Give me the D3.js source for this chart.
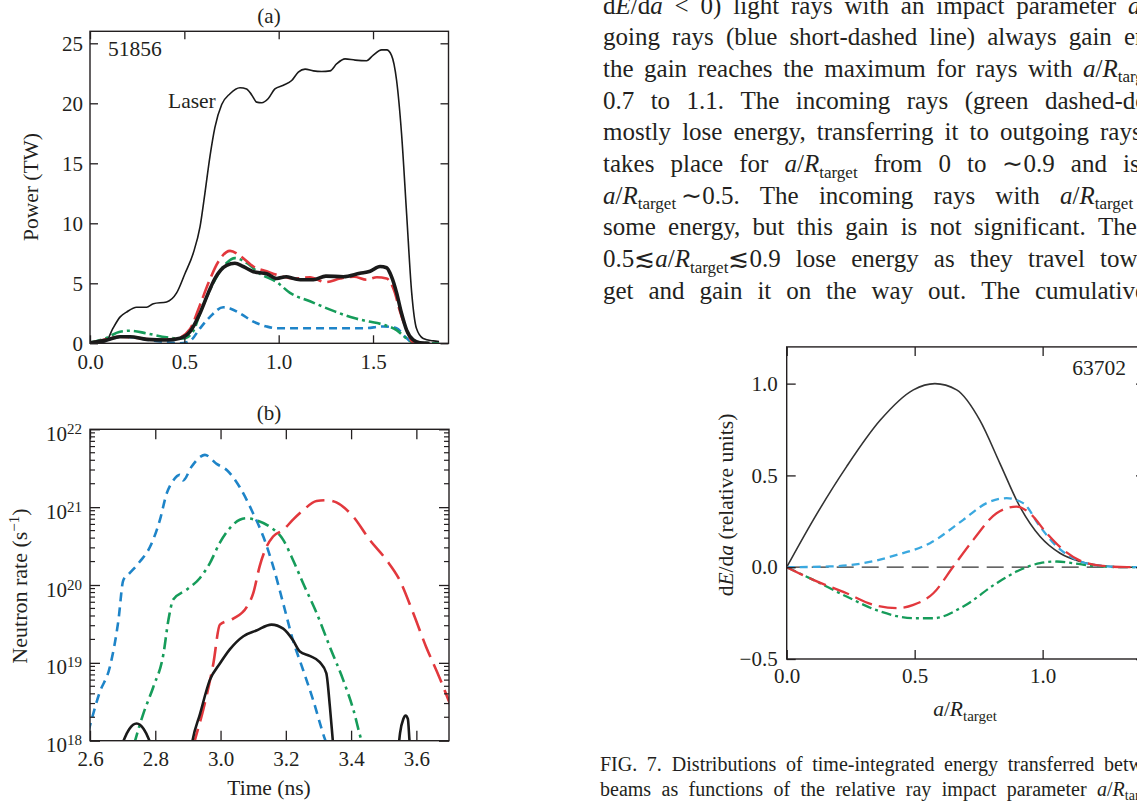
<!DOCTYPE html>
<html>
<head>
<meta charset="utf-8">
<script src="https://cdn.jsdelivr.net/npm/d3@7"></script>
<style>
  html, body { margin: 0; padding: 0; background: #fff; }
  svg { display: block; }
  text { font-family: "Liberation Serif", "Times New Roman", serif; fill: #231f20; }
</style>
</head>
<body>
<svg id="page" width="1137" height="801"></svg>
<script>
// ---------- Panel (a): power history, shot 51856 ----------
const powerTicksX = [0, 0.5, 1.0, 1.5];
const powerTicksY = [0, 5, 10, 15, 20, 25];
const laserPower = [[0,0.05],[0.05,0.05],[0.085,0.15],[0.12,1.2],[0.16,2.2],[0.194,2.6],[0.247,3.0],[0.3,3.0],[0.336,3.3],[0.406,3.45],[0.459,4.2],[0.503,5.8],[0.547,7.5],[0.583,9.7],[0.609,12.5],[0.636,15.6],[0.662,18.0],[0.698,19.9],[0.742,20.8],[0.795,21.3],[0.83,21.2],[0.857,20.7],[0.883,20.1],[0.91,20.05],[0.945,20.4],[0.98,21.2],[1.025,21.5],[1.069,21.9],[1.104,22.6],[1.14,22.85],[1.184,22.7],[1.228,22.65],[1.272,22.7],[1.308,23.3],[1.352,23.7],[1.405,23.6],[1.466,23.55],[1.5,24.0],[1.546,24.45],[1.572,24.45],[1.598,24.0],[1.625,21.9],[1.651,17.5],[1.678,10.8],[1.705,4.2],[1.73,1.25],[1.766,0.4],[1.819,0.2],[1.85,0.15]];
const absorbedPower = [[0,0.05],[0.088,0.27],[0.159,0.55],[0.212,0.55],[0.3,0.33],[0.406,0.27],[0.477,0.42],[0.53,0.97],[0.583,2.5],[0.627,4.2],[0.662,5.4],[0.724,6.5],[0.768,6.67],[0.812,6.4],[0.866,5.97],[0.936,5.8],[0.99,5.4],[1.04,5.55],[1.08,5.4],[1.115,5.3],[1.184,5.3],[1.25,5.6],[1.343,5.55],[1.43,5.83],[1.485,6.0],[1.537,6.4],[1.572,6.3],[1.598,5.55],[1.625,4.2],[1.651,2.5],[1.678,1.1],[1.713,0.28],[1.748,0.05],[1.8,0]];
const redPower = [[0,0.05],[0.05,0.2],[0.1,0.4],[0.159,0.55],[0.25,0.45],[0.35,0.3],[0.45,0.35],[0.53,1.2],[0.583,3.2],[0.627,5.0],[0.68,6.8],[0.742,7.7],[0.795,7.3],[0.866,6.4],[0.936,6.0],[0.99,5.7],[1.08,5.4],[1.166,5.5],[1.25,5.1],[1.326,5.4],[1.4,5.55],[1.466,5.3],[1.52,5.5],[1.572,5.4],[1.616,4.2],[1.64,2.8],[1.678,1.1],[1.71,0.1],[1.75,0]];
const greenPower = [[0,0.05],[0.08,0.4],[0.159,0.97],[0.212,1.05],[0.3,0.83],[0.406,0.5],[0.495,0.4],[0.547,1.0],[0.583,2.5],[0.653,5.0],[0.724,6.7],[0.768,7.1],[0.83,6.7],[0.9,5.8],[0.99,5.1],[1.06,4.2],[1.166,3.5],[1.29,2.7],[1.4,2.1],[1.466,1.85],[1.555,1.55],[1.625,1.1],[1.678,0.4],[1.713,0.05],[1.85,0]];
const bluePower = [[0,0],[0.088,0.27],[0.159,0.55],[0.23,0.5],[0.318,0.27],[0.406,0.1],[0.477,0.0],[0.53,0.2],[0.583,1.25],[0.636,2.2],[0.706,3.0],[0.742,2.9],[0.795,2.5],[0.866,1.8],[0.936,1.4],[0.99,1.25],[1.2,1.25],[1.45,1.25],[1.555,1.4],[1.625,1.25],[1.67,0.55],[1.713,0.05],[1.76,0]];

// ---------- Panel (b): neutron rate ----------
const timeTicks = [2.6, 2.8, 3.0, 3.2, 3.4, 3.6];
const rateDecades = [1e18, 1e19, 1e20, 1e21, 1e22];
const blueRate = [[2.595,1.3e18],[2.629,4.1e18],[2.661,8.9e18],[2.687,3.5e19],[2.702,1.15e20],[2.72,1.4e20],[2.753,2.0e20],[2.784,3.1e20],[2.814,6.8e20],[2.835,1.5e21],[2.855,2.2e21],[2.875,2.6e21],[2.885,2.2e21],[2.911,3.3e21],[2.937,4.4e21],[2.952,4.7e21],[2.988,3.6e21],[3.019,3.0e21],[3.059,1.8e21],[3.1,8.3e20],[3.131,4.2e20],[3.161,1.75e20],[3.192,5.8e19],[3.222,1.95e19],[3.253,8.1e18],[3.284,3.3e18],[3.319,1.07e18],[3.33,8e17]];
const greenRate = [[2.735,9e17],[2.763,2.2e18],[2.794,4.9e18],[2.825,1.3e19],[2.84,3.5e19],[2.855,6.5e19],[2.896,8.7e19],[2.937,1.23e20],[2.967,1.9e20],[2.998,3.5e20],[3.029,5.4e20],[3.059,6.9e20],[3.08,7.2e20],[3.11,6.8e20],[3.151,5.6e20],[3.192,3.8e20],[3.222,2.1e20],[3.253,1.05e20],[3.294,4.4e19],[3.335,1.6e19],[3.376,6.0e18],[3.407,2.5e18],[3.432,1.0e18],[3.44,8e17]];
const redRate = [[2.915,8e17],[2.921,1.0e18],[2.947,2.5e18],[2.978,9.8e18],[2.998,3.1e19],[3.039,3.7e19],[3.08,5.2e19],[3.1,7.8e19],[3.12,1.75e20],[3.141,3.1e20],[3.161,4.2e20],[3.192,5.1e20],[3.222,6.9e20],[3.253,9.1e20],[3.294,1.2e21],[3.325,1.23e21],[3.355,1.15e21],[3.406,7.6e20],[3.457,3.8e20],[3.508,2.1e20],[3.549,1.15e20],[3.59,4.4e19],[3.63,1.6e19],[3.67,6.6e18],[3.7,3.2e18],[3.71,2.5e18]];
const blackRate = [[2.695,8e17],[2.705,1.05e18],[2.72,1.4e18],[2.743,1.66e18],[2.765,1.4e18],[2.78,1.05e18],[2.79,8e17],null,
  [2.91,8e17],[2.914,1.0e18],[2.937,2.2e18],[2.967,6.0e18],[2.998,9.8e18],[3.029,1.5e19],[3.07,2.2e19],[3.11,2.6e19],[3.156,3.1e19],[3.192,2.75e19],[3.222,1.95e19],[3.243,1.4e19],[3.273,1.23e19],[3.304,1.02e19],[3.324,7.4e18],[3.335,2.75e18],[3.344,1.0e18],[3.346,8e17],null,
  [3.545,8e17],[3.55,1.25e18],[3.56,1.9e18],[3.567,2.1e18],[3.574,1.9e18],[3.579,1.0e18],[3.581,8e17]];

// ---------- Fig. 7: dE/da versus a/R_target, shot 63702 ----------
const impactTicks = [0, 0.5, 1.0];
const transferTicks = [-0.5, 0, 0.5, 1.0];
const totalTransfer = [[0,0],[0.104,0.258],[0.234,0.548],[0.365,0.80],[0.495,0.966],[0.579,1.0],[0.664,0.966],[0.755,0.80],[0.833,0.566],[0.911,0.33],[0.99,0.167],[1.068,0.076],[1.146,0.031],[1.224,0.009],[1.33,0],[1.4,0]];
const outgoingTransfer = [[0,0],[0.169,0.004],[0.3,0.022],[0.43,0.067],[0.56,0.131],[0.69,0.258],[0.781,0.349],[0.859,0.376],[0.924,0.349],[0.99,0.221],[1.055,0.113],[1.12,0.049],[1.198,0.013],[1.33,0],[1.4,0]];
const netTransfer = [[0,0],[0.104,-0.069],[0.234,-0.142],[0.339,-0.205],[0.43,-0.223],[0.495,-0.205],[0.573,-0.142],[0.651,0.004],[0.729,0.149],[0.82,0.294],[0.898,0.33],[0.95,0.294],[1.016,0.185],[1.081,0.094],[1.146,0.036],[1.224,0.009],[1.33,0],[1.4,0]];
const incomingTransfer = [[0,0],[0.104,-0.069],[0.234,-0.16],[0.365,-0.241],[0.495,-0.278],[0.573,-0.278],[0.69,-0.214],[0.82,-0.087],[0.911,-0.015],[0.99,0.022],[1.055,0.031],[1.12,0.022],[1.198,0.007],[1.33,0],[1.4,0]];
const zeroLine = [[0,0],[1.4,0]];

// ---------- Running text and caption: [text, index of anchored word, its x] ----------
const bodyLines = [
  ["d{E}/d{a} < 0) light rays with an impact parameter {a}. The out-", 9, 1128],
  ["going rays (blue short-dashed line) always gain energy, and", 7, 1124],
  ["the gain reaches the maximum for rays with {a}/{R}_[target] from", 8, 1083],
  ["0.7 to 1.1. The incoming rays (green dashed-dotted line)", 7, 1045],
  ["mostly lose energy, transferring it to outgoing rays. This loss", 7, 1100],
  ["takes place for {a}/{R}_[target] from 0 to \u223C0.9 and is maximal at", 9, 1123],
  ["{a}/{R}_[target]\u2009\u223C0.5. The incoming rays with {a}/{R}_[target] > 0.9 gain", 5, 1060],
  ["some energy, but this gain is not significant. The rays with", 8, 1098],
  ["0.5\u2272{a}/{R}_[target]\u22720.9 lose energy as they travel toward the tar-", 6, 1100],
  ["get and gain it on the way out. The cumulative effect", 9, 1035]
];
const captionLines = [
  ["FIG. 7.\u2002Distributions of time-integrated energy transferred between", 6, 1104],
  ["beams as functions of the relative ray impact parameter {a}/{R}_[target].", 9, 1097]
];

const COLORS = { red: "#e2383d", green: "#169c5a", blue: "#1e84c8", lightBlue: "#3aa8df", black: "#1a1a1a" };
const svg = d3.select("#page");
svg.append("rect").attr("width", 1137).attr("height", 801).attr("fill", "#fff");

// Parse "{italic}" and "_[subscript]" markup into runs
function parseRuns(s) {
  return s.split(/(\{[^}]*\}|_\[[^\]]*\])/g).filter(p => p.length).map(p => {
    if (p[0] === "{") return { text: p.slice(1, -1), italic: true, sub: false };
    if (p.startsWith("_[")) return { text: p.slice(2, -1), italic: false, sub: true };
    return { text: p, italic: false, sub: false };
  });
}
function richText(parent, str, fs, subFs, subShift) {
  const t = parent.append("text").attr("font-size", fs);
  let shift = 0;
  parseRuns(str).forEach(r => {
    const ts = t.append("tspan").text(r.text);
    if (r.italic) ts.attr("font-style", "italic");
    const want = r.sub ? subShift : 0;
    if (want !== shift) { ts.attr("dy", want - shift); shift = want; }
    if (r.sub) ts.attr("font-size", subFs);
  });
  return t;
}
// Justified line: spread word gaps so that the word at anchorIdx starts at anchorX
function justifiedLine(parent, str, x0, y, anchorIdx, anchorX, fs, subFs, subShift) {
  const words = str.split(" ");
  const nodes = words.map(w => richText(parent, w, fs, subFs, subShift).attr("y", y));
  const widths = nodes.map(n => n.node().getComputedTextLength());
  const before = d3.sum(widths.slice(0, anchorIdx));
  const gap = Math.max(fs * 0.15, (anchorX - x0 - before) / anchorIdx);
  let x = x0;
  nodes.forEach((n, i) => { n.attr("x", x); x += widths[i] + gap; });
}

const textG = svg.append("g");
bodyLines.forEach((l, i) => justifiedLine(textG, l[0], 603, 13.5 + i * 31.7, l[1], l[2], 25, 17, 5.5));
captionLines.forEach((l, i) => justifiedLine(textG, l[0], 600, 771 + i * 24.5, l[1], l[2], 20, 14, 4.5));

// Boxed axes with inward ticks on all four sides
function boxAxes(g, x, y, o) {
  const [xa, xb] = x.range(), [ya, yb] = y.range();
  const style = sel => sel.attr("font-size", o.fs).attr("font-family", null).attr("color", "#231f20");
  g.append("g").attr("transform", `translate(0,${ya})`)
    .call(d3.axisBottom(x).tickValues(o.xTicks).tickFormat(o.xFmt).tickSizeInner(-o.tick).tickSizeOuter(0).tickPadding(o.xPad)).call(style);
  g.append("g").attr("transform", `translate(0,${yb})`)
    .call(d3.axisTop(x).tickValues(o.xTicks).tickFormat("").tickSizeInner(-o.tick).tickSizeOuter(0)).call(style);
  const left = g.append("g").attr("transform", `translate(${xa},0)`)
    .call(d3.axisLeft(y).tickValues(o.yTicks).tickFormat(o.yFmt).tickSizeInner(-o.tick).tickSizeOuter(0).tickPadding(o.yPad)).call(style);
  g.append("g").attr("transform", `translate(${xb},0)`)
    .call(d3.axisRight(y).tickValues(o.yTicks).tickFormat("").tickSizeInner(-o.tick).tickSizeOuter(0)).call(style);
  g.selectAll(".domain").remove();
  g.selectAll(".tick line").attr("stroke-width", 1.3);
  g.append("rect").attr("x", xa).attr("y", yb).attr("width", xb - xa).attr("height", ya - yb)
    .attr("fill", "none").attr("stroke", "#231f20").attr("stroke-width", 1.4);
  return { left };
}
function clipFor(id, x, y) {
  const [xa, xb] = x.range(), [ya, yb] = y.range();
  svg.append("clipPath").attr("id", id).append("rect").attr("x", xa).attr("y", yb).attr("width", xb - xa).attr("height", ya - yb);
  return `url(#${id})`;
}
function curve(g, data, line, color, width, dash) {
  g.append("path").datum(data).attr("d", line).attr("fill", "none").attr("stroke", color)
    .attr("stroke-width", width).attr("stroke-dasharray", dash || null).attr("stroke-linejoin", "round");
}

// ----- Panel (a)
{
  const x = d3.scaleLinear().domain([0, 1.9]).range([90, 448.5]);
  const y = d3.scaleLinear().domain([0, 26]).range([343.3, 31.3]);
  const g = svg.append("g");
  const line = d3.line().x(d => x(d[0])).y(d => y(d[1])).curve(d3.curveMonotoneX);
  const c = g.append("g").attr("clip-path", clipFor("clipA", x, y));
  curve(c, laserPower, line, COLORS.black, 1.6);
  curve(c, bluePower, line, COLORS.blue, 2.6, "8,5");
  curve(c, greenPower, line, COLORS.green, 2.6, "12,4,3,4");
  curve(c, redPower, line, COLORS.red, 2.6, "17,6");
  curve(c, absorbedPower, line, COLORS.black, 3.6);
  boxAxes(g, x, y, { xTicks: powerTicksX, yTicks: powerTicksY, xFmt: d3.format(".1f"), yFmt: d3.format("d"), tick: 8, xPad: 11, yPad: 7, fs: 21 });
  g.append("text").attr("x", 269).attr("y", 23).attr("text-anchor", "middle").attr("font-size", 21).text("(a)");
  g.append("text").attr("x", 108).attr("y", 56).attr("font-size", 21.5).text("51856");
  g.append("text").attr("x", 168).attr("y", 108).attr("font-size", 21.5).text("Laser");
  g.append("text").attr("transform", "translate(38,187) rotate(-90)").attr("text-anchor", "middle").attr("font-size", 21.5).text("Power (TW)");
}

// ----- Panel (b)
{
  const x = d3.scaleLinear().domain([2.6, 3.7]).range([90, 449]);
  const y = d3.scaleLog().domain([1e18, 1e22]).range([740.7, 429.3]);
  const g = svg.append("g");
  const line = d3.line().defined(d => d !== null).x(d => x(d[0])).y(d => y(d[1])).curve(d3.curveMonotoneX);
  const c = g.append("g").attr("clip-path", clipFor("clipB", x, y));
  curve(c, blueRate, line, COLORS.blue, 2.6, "9,6");
  curve(c, greenRate, line, COLORS.green, 2.6, "12,5,3,5");
  curve(c, redRate, line, COLORS.red, 2.6, "20,8");
  curve(c, blackRate, line, COLORS.black, 2.6);
  const ax = boxAxes(g, x, y, { xTicks: timeTicks, yTicks: rateDecades, xFmt: d3.format(".1f"), yFmt: () => "", tick: 10, xPad: 10, yPad: 8, fs: 21 });
  // decade labels as 10 with superscript exponent
  ax.left.selectAll(".tick").each(function(d) {
    const t = d3.select(this).append("text").attr("x", -8).attr("y", 11).attr("text-anchor", "end").attr("fill", "#231f20").attr("font-size", 21);
    t.append("tspan").text("10");
    t.append("tspan").attr("font-size", 15).attr("dy", -7).text(String(Math.round(Math.log10(d))));
  });
  // minor log ticks on both vertical sides
  const minors = [];
  rateDecades.slice(0, -1).forEach(dec => { for (let k = 2; k <= 9; k++) minors.push(dec * k); });
  const [xa, xb] = x.range();
  g.selectAll("line.minorL").data(minors).join("line").attr("x1", xa).attr("x2", xa + 5).attr("y1", d => y(d)).attr("y2", d => y(d)).attr("stroke", "#231f20").attr("stroke-width", 1.2);
  g.selectAll("line.minorR").data(minors).join("line").attr("x1", xb).attr("x2", xb - 5).attr("y1", d => y(d)).attr("y2", d => y(d)).attr("stroke", "#231f20").attr("stroke-width", 1.2);
  g.append("text").attr("x", 269).attr("y", 420).attr("text-anchor", "middle").attr("font-size", 21).text("(b)");
  g.append("text").attr("x", 269).attr("y", 795).attr("text-anchor", "middle").attr("font-size", 21.5).text("Time (ns)");
  const yl = g.append("text").attr("transform", "translate(27,586) rotate(-90)").attr("text-anchor", "middle").attr("font-size", 22);
  yl.append("tspan").text("Neutron rate (s");
  yl.append("tspan").attr("font-size", 15).attr("dy", -8).text("\u22121");
  yl.append("tspan").attr("dy", 8).text(")");
}

// ----- Fig. 7 chart
{
  const x = d3.scaleLinear().domain([0, 1.4]).range([786.7, 1145]);
  const y = d3.scaleLinear().domain([-0.5, 1.2]).range([659, 346.9]);
  const g = svg.append("g");
  const line = d3.line().x(d => x(d[0])).y(d => y(d[1])).curve(d3.curveMonotoneX);
  const c = g.append("g").attr("clip-path", clipFor("clipC", x, y));
  curve(c, zeroLine, line, "#333", 1.3, "17,8");
  curve(c, totalTransfer, line, "#333", 1.6);
  curve(c, incomingTransfer, line, COLORS.green, 2.3, "10,4,3,4");
  curve(c, outgoingTransfer, line, COLORS.lightBlue, 2.3, "8,5");
  curve(c, netTransfer, line, COLORS.red, 2.3, "18,7");
  boxAxes(g, x, y, { xTicks: impactTicks, yTicks: transferTicks, xFmt: d3.format(".1f"), yFmt: d3.format(".1f"), tick: 9, xPad: 9, yPad: 9, fs: 21 });
  g.append("text").attr("x", 1126).attr("y", 375).attr("text-anchor", "end").attr("font-size", 21.5).text("63702");
  richText(g, "{a}/{R}_[target]", 21.5, 15, 5).attr("x", 965).attr("y", 716).attr("text-anchor", "middle");
  richText(g, "d{E}/d{a} (relative units)", 21.5, 15, 5).attr("text-anchor", "middle").attr("transform", "translate(733,505) rotate(-90)");
}
</script>
</body>
</html>
